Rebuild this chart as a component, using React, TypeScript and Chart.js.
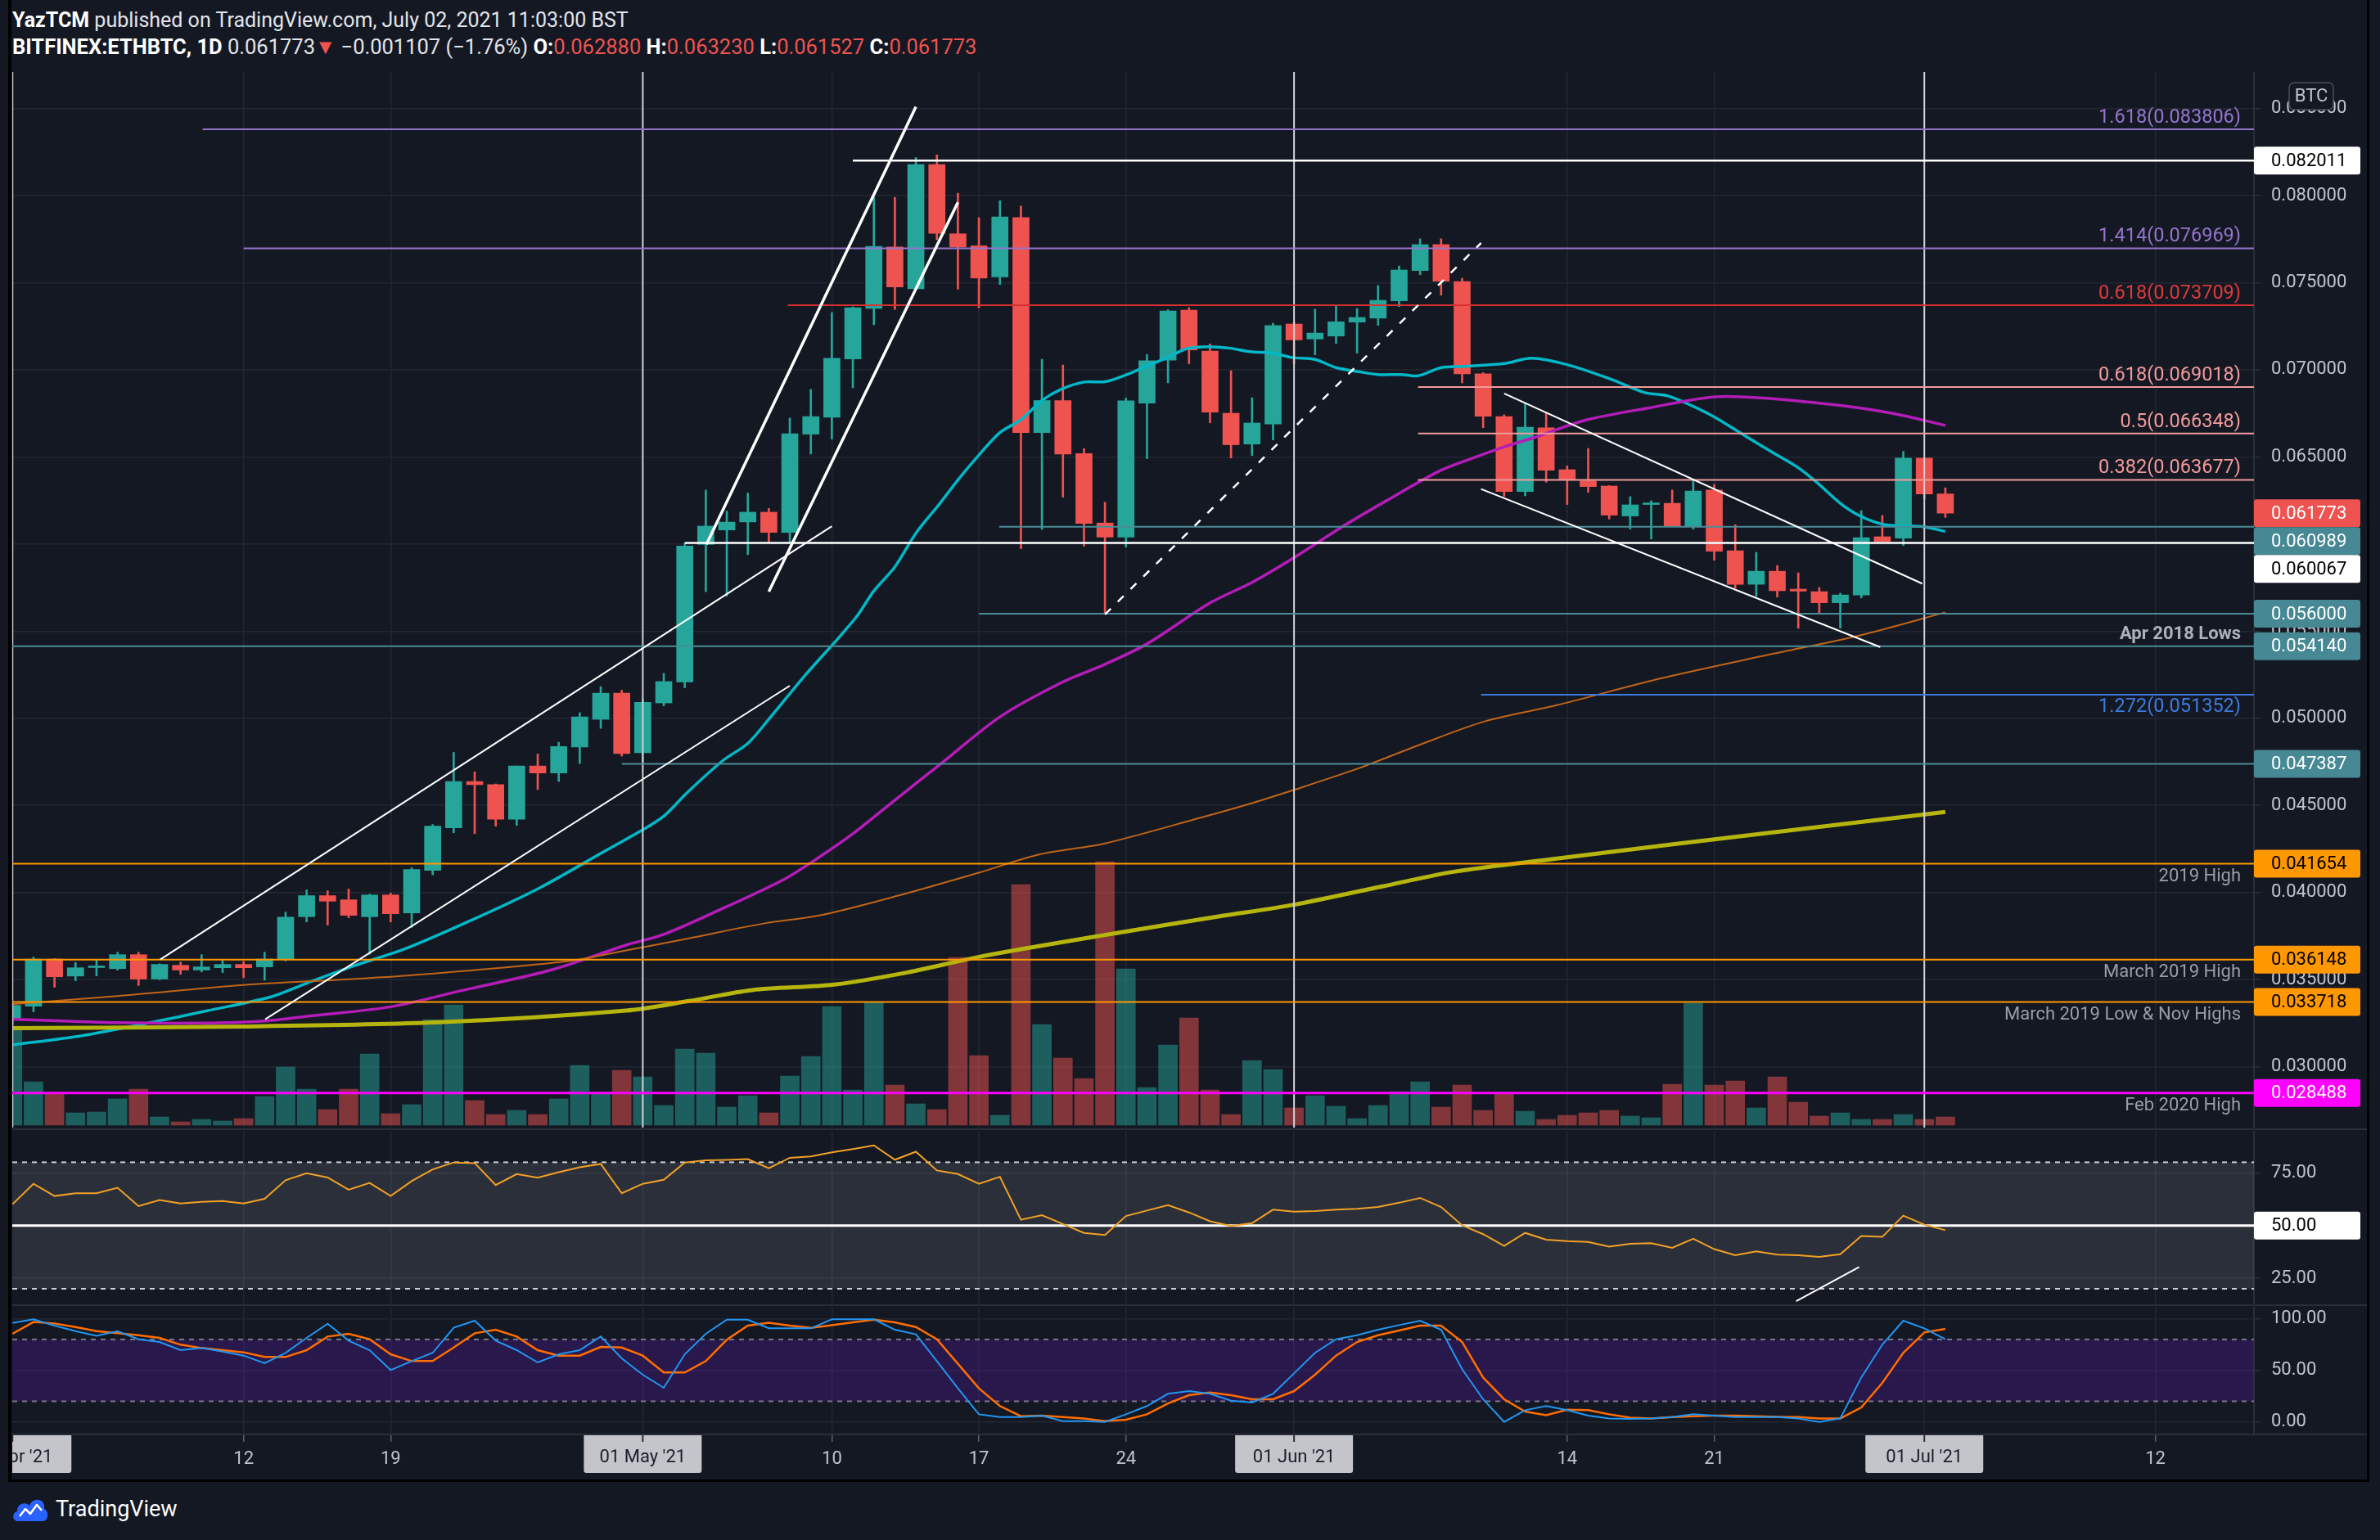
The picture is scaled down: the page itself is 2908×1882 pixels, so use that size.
import React, { useEffect, useRef } from 'react';
import { Chart, registerables } from 'chart.js';

Chart.register(...registerables);

const FONT = 'Roboto, "Liberation Sans", "DejaVu Sans", sans-serif';

// ================= DATA (day index 0 = 01 Apr 2021) =================
const OPEN = [0.03268, 0.03347, 0.03618, 0.03520, 0.03569, 0.03563, 0.03643, 0.03503, 0.03582, 0.03555,
  0.03568, 0.03587, 0.03573, 0.03615, 0.03861, 0.03982, 0.03958, 0.03861, 0.03986, 0.03883,
  0.04127, 0.04371, 0.04637, 0.04619, 0.04421, 0.04726, 0.04686, 0.04835, 0.04994, 0.05144,
  0.04802, 0.05088, 0.05208, 0.05998, 0.06081, 0.06127, 0.06183, 0.06067, 0.06631, 0.06728,
  0.07063, 0.07353, 0.07705, 0.07465, 0.08179, 0.07781, 0.07712, 0.07533, 0.07874, 0.06640,
  0.06824, 0.06519, 0.06121, 0.06040, 0.06809, 0.07056, 0.07343, 0.07108, 0.06751, 0.06574,
  0.06689, 0.07263, 0.07177, 0.07194, 0.07274, 0.07297, 0.07396, 0.07570, 0.07719, 0.07507,
  0.06977, 0.06732, 0.06302, 0.06667, 0.06427, 0.06363, 0.06333, 0.06161, 0.06227, 0.06234,
  0.06103, 0.06310, 0.05962, 0.05769, 0.05844, 0.05741, 0.05727, 0.05663, 0.05708, 0.06042,
  0.06034, 0.06493, 0.06288];
const HIGH = [0.03365, 0.03629, 0.03620, 0.03598, 0.03615, 0.03657, 0.03657, 0.03591, 0.03601, 0.03643,
  0.03610, 0.03605, 0.03657, 0.03887, 0.04015, 0.04010, 0.04020, 0.03990, 0.03997, 0.04142,
  0.04390, 0.04804, 0.04692, 0.04623, 0.04726, 0.04795, 0.04862, 0.05032, 0.05182, 0.05161,
  0.05109, 0.05258, 0.06006, 0.06310, 0.06189, 0.06293, 0.06205, 0.06723, 0.06888, 0.07329,
  0.07362, 0.07990, 0.07990, 0.08219, 0.08234, 0.08014, 0.07874, 0.07971, 0.07940, 0.07061,
  0.07028, 0.06548, 0.06240, 0.06838, 0.07088, 0.07345, 0.07357, 0.07149, 0.06995, 0.06840,
  0.07268, 0.07277, 0.07348, 0.07368, 0.07352, 0.07484, 0.07596, 0.07752, 0.07752, 0.07526,
  0.06984, 0.06742, 0.06806, 0.06754, 0.06449, 0.06549, 0.06336, 0.06272, 0.06249, 0.06310,
  0.06371, 0.06342, 0.06111, 0.05953, 0.05877, 0.05835, 0.05751, 0.05718, 0.06192, 0.06164,
  0.06532, 0.06493, 0.06323];
const LOW = [0.03243, 0.03315, 0.03456, 0.03493, 0.03521, 0.03554, 0.03466, 0.03499, 0.03530, 0.03544,
  0.03540, 0.03511, 0.03497, 0.03607, 0.03831, 0.03813, 0.03855, 0.03645, 0.03831, 0.03800,
  0.04101, 0.04343, 0.04338, 0.04381, 0.04385, 0.04591, 0.04637, 0.04740, 0.04942, 0.04783,
  0.04735, 0.05071, 0.05175, 0.05727, 0.05702, 0.05939, 0.06008, 0.06012, 0.06517, 0.06603,
  0.06897, 0.07259, 0.07347, 0.07465, 0.07747, 0.07463, 0.07356, 0.07490, 0.05974, 0.06084,
  0.06269, 0.05988, 0.05597, 0.05983, 0.06490, 0.06925, 0.07035, 0.06696, 0.06494, 0.06508,
  0.06598, 0.07035, 0.07086, 0.07152, 0.07096, 0.07255, 0.07363, 0.07546, 0.07429, 0.06925,
  0.06668, 0.06274, 0.06277, 0.06355, 0.06227, 0.06297, 0.06144, 0.06086, 0.06029, 0.06103,
  0.06086, 0.05907, 0.05747, 0.05700, 0.05696, 0.05517, 0.05600, 0.05517, 0.05691, 0.06015,
  0.05992, 0.06258, 0.061527];
const CLOSE = [0.03352, 0.03618, 0.03516, 0.03568, 0.03575, 0.03643, 0.03503, 0.03587, 0.03555, 0.03573,
  0.03587, 0.03568, 0.03618, 0.03859, 0.03982, 0.03950, 0.03869, 0.03986, 0.03878, 0.04132,
  0.04381, 0.04637, 0.04619, 0.04421, 0.04726, 0.04686, 0.04838, 0.05008, 0.05144, 0.04797,
  0.05092, 0.05211, 0.05989, 0.06103, 0.06126, 0.06183, 0.06067, 0.06633, 0.06732, 0.07066,
  0.07356, 0.07709, 0.07476, 0.08179, 0.07784, 0.07705, 0.07527, 0.07878, 0.06640, 0.06824,
  0.06517, 0.06119, 0.06040, 0.06822, 0.07052, 0.07338, 0.07114, 0.06757, 0.06570, 0.06695,
  0.07254, 0.07172, 0.07211, 0.07276, 0.07301, 0.07399, 0.07573, 0.07719, 0.07509, 0.06977,
  0.06734, 0.06302, 0.06671, 0.06424, 0.06371, 0.06330, 0.06166, 0.06225, 0.06234, 0.06103,
  0.06305, 0.05959, 0.05769, 0.05844, 0.05732, 0.05730, 0.05663, 0.05708, 0.06037, 0.06015,
  0.06493, 0.06288, 0.061773];
const VOLUME = [121, 53, 38, 15, 16, 32, 44, 10, 4, 7,
  5, 8, 35, 71, 44, 19, 44, 87, 14, 25,
  129, 147, 30, 13, 18, 13, 32, 73, 39, 67,
  59, 24, 93, 88, 22, 36, 15, 60, 84, 145,
  43, 150, 49, 26, 19, 205, 85, 12, 294, 123,
  82, 57, 322, 191, 46, 98, 131, 43, 13, 79,
  68, 21, 36, 23, 8, 24, 41, 53, 22, 49,
  18, 38, 17, 7, 12, 15, 18, 11, 9, 50,
  149, 49, 54, 21, 59, 28, 11, 15, 7, 7,
  13, 7, 10];

// moving averages: [day, price]
const MA20 = [[0, 0.03125], [3.3, 0.03178], [6.4, 0.03249], [9.3, 0.03322], [12.3, 0.03401], [14, 0.03479],
  [16.1, 0.03573], [18.8, 0.03682], [22.1, 0.03855], [25.1, 0.04027], [28.2, 0.04238], [30, 0.04360],
  [31, 0.04438], [32.1, 0.04572], [33.8, 0.04756], [35, 0.04856], [36, 0.04995], [37.7, 0.05243],
  [39.3, 0.05459], [40.2, 0.05587], [41, 0.05731], [42, 0.05869], [43, 0.06062], [44.1, 0.06227],
  [45.1, 0.06383], [46, 0.06511], [47, 0.06640], [48, 0.06714], [49, 0.06824], [49.9, 0.06888],
  [51, 0.06930], [52, 0.06932], [53, 0.06971], [53.9, 0.07017], [55, 0.07072], [55.9, 0.07122],
  [56.9, 0.07133], [57.9, 0.07125], [59, 0.07103], [59.9, 0.07099], [60.9, 0.07071], [62, 0.07060],
  [63, 0.07013], [64.1, 0.06989], [65, 0.06973], [66.1, 0.06973], [66.9, 0.06966], [68, 0.07013],
  [69, 0.07020], [71, 0.07036], [72.3, 0.07067], [74, 0.07030], [76, 0.06950], [77.7, 0.06869],
  [78.8, 0.06850], [80.8, 0.06743], [82.3, 0.06634], [83.8, 0.06524], [85, 0.06438], [85.9, 0.06352],
  [87, 0.06234], [87.9, 0.06164], [89, 0.06114], [90, 0.06104], [90.9, 0.06101], [92, 0.06073]];
const MA50 = [[0, 0.03273], [5, 0.03253], [9, 0.03250], [12, 0.03262], [14.3, 0.03293], [18, 0.03344],
  [21.5, 0.03440], [25.7, 0.03557], [29.2, 0.03698], [31, 0.03760], [33.4, 0.03886], [36.7, 0.04074],
  [38.4, 0.04203], [40, 0.04337], [42, 0.04530], [44.2, 0.04740], [47, 0.05008], [50, 0.05209],
  [52, 0.05310], [54, 0.05427], [57, 0.05662], [59, 0.05780], [61, 0.05922], [63.4, 0.06107],
  [65.4, 0.06249], [67.9, 0.06418], [69.5, 0.06493], [71.2, 0.06566], [72.4, 0.06610], [74.9, 0.06712],
  [77.9, 0.06782], [81, 0.06845], [83.5, 0.06837], [86, 0.06809], [87.9, 0.06782], [89.8, 0.06743],
  [92, 0.06681]];
const MA100 = [[0, 0.03359], [5, 0.03406], [11, 0.03469], [15.6, 0.03500], [18.8, 0.03523], [26.3, 0.03604],
  [29.2, 0.03667], [32.2, 0.03737], [35.8, 0.03823], [38.4, 0.03868], [42, 0.03977], [46, 0.04114],
  [48.9, 0.04219], [52, 0.04282], [56.3, 0.04421], [59, 0.04513], [61, 0.04589], [64.1, 0.04714],
  [67, 0.04849], [70.1, 0.04983], [73.5, 0.05075], [78.5, 0.05230], [83.6, 0.05365], [87.9, 0.05475],
  [92, 0.05608]];
const MA200 = [[0, 0.03221], [11, 0.03231], [20.3, 0.03255], [29.2, 0.03322], [32.2, 0.03377], [35.2, 0.03440],
  [39.1, 0.03471], [42.6, 0.03541], [46.2, 0.03635], [52.2, 0.03760], [57.4, 0.03862], [61, 0.03930],
  [65.2, 0.04035], [68.6, 0.04119], [73.5, 0.04195], [79.2, 0.04279], [92, 0.04462]];

const RSI_VALUES = [60.1, 69.8, 64.0, 65.3, 65.3, 67.9, 59.2, 62.1, 60.5, 61.2,
  61.6, 60.5, 62.7, 71.5, 74.8, 72.8, 67.0, 70.2, 64.0, 71.1,
  76.6, 79.9, 79.6, 69.2, 74.4, 72.7, 75.3, 77.6, 79.2, 65.3,
  69.8, 71.7, 79.9, 80.9, 81.1, 81.5, 77.2, 82.1, 82.8, 84.7,
  86.3, 88.0, 81.2, 85.0, 76.1, 74.4, 69.8, 73.1, 52.7, 54.9,
  50.7, 46.5, 45.5, 54.5, 57.1, 59.7, 56.2, 52.0, 49.8, 51.1,
  57.5, 56.6, 56.9, 57.5, 57.9, 58.8, 60.8, 63.1, 58.8, 50.1,
  45.9, 40.3, 46.5, 43.3, 42.6, 42.2, 40.0, 41.3, 41.6, 39.4,
  43.7, 38.8, 35.9, 37.7, 36.2, 35.9, 35.1, 36.4, 45.0, 44.6,
  54.7, 50.4, 47.8];
const STOCH_K = [96, 99.5, 93.4, 88.1, 83.6, 88.1, 80.2, 77.5, 69.6, 71.7,
  68.3, 64.3, 56.9, 67.0, 81.5, 95.3, 78.9, 69.6, 50.3, 59.0,
  67.0, 91.3, 98.2, 78.9, 69.6, 57.7, 65.6, 69.6, 82.8, 61.7,
  45.8, 33.1, 65.6, 85.5, 99.2, 99.2, 90.8, 90.8, 90.8, 99.5,
  99.5, 99.5, 89.4, 85.0, 59.0, 32.6, 7.4, 4.8, 4.8, 6.1,
  0.8, 0.8, 0, 7.4, 15.4, 27.3, 29.9, 27.3, 20.6, 18.8,
  27.3, 47.1, 67.0, 80.2, 84.1, 89.4, 93.9, 98.2, 89.4, 51.1,
  22.0, 0, 11.4, 15.4, 11.4, 6.1, 3.4, 2.9, 3.4, 4.8,
  7.4, 6.1, 4.8, 4.8, 4.8, 3.4, 0, 3.4, 43.1, 74.9,
  98.2, 90.8, 80.2];
const STOCH_D = [85.5, 96.9, 95.5, 92.1, 88.1, 86.0, 84.1, 81.5, 74.9, 71.7,
  69.6, 67.5, 63.0, 63.0, 69.6, 82.8, 85.5, 80.2, 65.6, 59.0,
  59.0, 72.2, 86.0, 89.4, 82.8, 69.6, 64.3, 64.3, 72.8, 72.2,
  64.3, 47.9, 47.9, 59.0, 79.7, 93.4, 96.1, 93.4, 91.3, 93.9,
  96.6, 99.2, 96.6, 92.1, 80.2, 56.4, 32.6, 15.4, 5.6, 6.1,
  4.8, 3.4, 0.8, 2.1, 7.4, 18.0, 25.9, 28.6, 25.9, 22.0,
  22.0, 29.9, 45.8, 64.3, 77.5, 84.1, 88.6, 93.4, 93.4, 77.5,
  43.1, 22.0, 10.1, 6.6, 11.9, 11.4, 7.4, 4.2, 3.4, 4.8,
  5.6, 6.1, 6.1, 5.6, 5.0, 4.8, 3.4, 3.4, 14.0, 37.8,
  67.0, 86.8, 90.2];

const PRICE_TICKS = [0.030, 0.035, 0.040, 0.045, 0.050, 0.055, 0.060, 0.065, 0.070, 0.075, 0.080, 0.085];
const RSI_TICKS = [25, 50, 75];
const STOCH_TICKS = [0, 50, 100];
const RSI_BAND = [20, 80];
const RSI_MID = 50;
const STOCH_BAND = [20, 80];
const GRID_DAYS = [11, 18, 30, 39, 46, 53, 61, 74, 81, 91, 102];
const DATE_TICK_DAYS = [11, 18, 39, 46, 53, 74, 81, 102];
const DATE_TICK_LABELS = ['12', '19', '10', '17', '24', '14', '21', '12'];
const MARKED_DAYS = [0, 30, 61, 91];
const MARKED_LABELS = ["01 Apr '21", "01 May '21", "01 Jun '21", "01 Jul '21"];

// horizontal levels
const LEVEL_PRICES = [0.083806, 0.082011, 0.076969, 0.073709, 0.069018, 0.066348, 0.063677, 0.060989,
  0.060067, 0.056000, 0.054140, 0.051352, 0.047387, 0.041654, 0.036148, 0.033718, 0.028488];
const LEVEL_FROM_DAY = [9.05, 40.0, 11.0, 36.9, 66.9, 66.9, 66.9, 46.96,
  32.0, 46.0, null, 69.9, 29.0, null, null, null, null];
const LEVEL_TEXT = ['1.618(0.083806)', '', '1.414(0.076969)', '0.618(0.073709)', '0.618(0.069018)',
  '0.5(0.066348)', '0.382(0.063677)', '', '', '', 'Apr 2018 Lows', '1.272(0.051352)', '',
  '2019 High', 'March 2019 High', 'March 2019 Low & Nov Highs', 'Feb 2020 High'];
const LEVEL_KIND = ['purple', 'white', 'purple', 'red', 'pink', 'pink', 'pink', 'teal',
  'white', 'teal', 'teal', 'blue', 'teal', 'orange', 'orange', 'orange', 'magenta'];
const LEVEL_NOTE = ['fib', '', 'fib', 'fib', 'fib', 'fib', 'fib', '', '', '', 'above', 'fibBelow', '',
  'below', 'below', 'below', 'below'];
const LAST_PRICE = 0.061773;

// trend lines [day1, price1, day2, price2]
const TRENDS = [[7.03, 0.03615, 39.0, 0.06102], [12.03, 0.03272, 37.0, 0.05187],
  [33.03, 0.05998, 43.0, 0.0851], [36.0, 0.05727, 45.0, 0.07962],
  [52.0, 0.05596, 69.9, 0.07728], [71.0, 0.06864, 90.9, 0.05773], [69.9, 0.06316, 88.9, 0.05409]];
const RSI_TREND = [84.9, 14.1, 87.9, 30.3];

// ================= STYLE / GEOMETRY =================
const BG = '#141823';
const GRID = '#222632';
const AXIS_LINE = '#2a2e39';
const AXIS_TEXT = '#c1c4cd';
const UP = '#26a69a';
const DOWN = '#ef5350';
const CANVAS_W = 2908;
const PLOT_LEFT = 15;
const AXIS_W = 154;
const X_MIN = -0.01;
const X_MAX = 106.69;
const PRICE_MIN = 0.026505;
const PRICE_MAX = 0.087097;
const VOL_MIN = -3;
const VOL_MAX = 1287;
const RSI_MIN = 13.0;
const RSI_MAX = 94.9;
const STOCH_MIN = -11.35;
const STOCH_MAX = 111.67;
const MAIN_TOP = 88, MAIN_H = 1290;
const RSI_TOP = 1382, RSI_H = 211;
const STOCH_TOP = 1597, STOCH_H = 213, XAXIS_H = 58;
const BOX_W = 130, BOX_H = 34;

const KIND_STYLE: any = {
  purple: { line: '#9575cd', width: 2, text: '#9575cd' },
  white: { line: '#ffffff', width: 2.5, box: ['#ffffff', '#000000'] },
  red: { line: '#d8302f', width: 2, text: '#e0393a' },
  pink: { line: '#f29a9a', width: 2, text: '#f29a9a' },
  teal: { line: '#4a8c97', width: 2, box: ['#468893', '#ffffff'] },
  blue: { line: '#3d7be0', width: 2, text: '#3d7be0' },
  orange: { line: '#ff9800', width: 2, box: ['#ff9800', '#000000'] },
  magenta: { line: '#ff00ff', width: 3, box: ['#ff00ff', '#ffffff'] },
};
const TREND_STYLE = [{ w: 2 }, { w: 2 }, { w: 3.5 }, { w: 3.5 }, { w: 2.5, dash: [10, 12] }, { w: 2 }, { w: 2 }];

function roundRect(ctx: any, x: number, y: number, w: number, h: number, r: number) {
  ctx.beginPath();
  ctx.moveTo(x + r, y);
  ctx.arcTo(x + w, y, x + w, y + h, r);
  ctx.arcTo(x + w, y + h, x, y + h, r);
  ctx.arcTo(x, y + h, x, y, r);
  ctx.arcTo(x, y, x + w, y, r);
  ctx.closePath();
}

function hiddenX(extra: any = {}) {
  return {
    type: 'linear', min: X_MIN, max: X_MAX, offset: false,
    grid: { color: GRID, lineWidth: 1.5, drawTicks: false, offset: false },
    border: { display: false },
    ticks: { display: false },
    afterBuildTicks: (s: any) => { s.ticks = GRID_DAYS.map((v) => ({ value: v })); },
    afterFit: (s: any) => { s.height = 0; s.paddingLeft = 0; s.paddingRight = 0; },
    ...extra,
  };
}

function rightY(min: number, max: number, ticks: number[], fmt: (v: number) => string) {
  return {
    type: 'linear', position: 'right', min, max,
    grid: { color: GRID, lineWidth: 1.5, tickLength: 8, tickColor: AXIS_LINE },
    border: { display: true, color: AXIS_LINE, width: 2 },
    ticks: { color: AXIS_TEXT, font: { size: 22, family: FONT }, padding: 13, callback: (v: any) => fmt(Number(v)) },
    afterBuildTicks: (s: any) => { s.ticks = ticks.map((v) => ({ value: v })); },
    afterFit: (s: any) => { s.width = AXIS_W; s.paddingTop = 0; s.paddingBottom = 0; },
  };
}

const baseOptions = {
  animation: false, responsive: false, maintainAspectRatio: false, devicePixelRatio: 1,
  events: [],
  layout: { padding: { left: PLOT_LEFT, right: 0, top: 0, bottom: 0 } },
  plugins: { legend: { display: false }, tooltip: { enabled: false } },
};

const mainOverlay = {
  id: 'mainOverlay',
  afterDatasetsDraw(chart: any) {
    const { ctx, chartArea: a } = chart;
    const x = chart.scales.x, y = chart.scales.y;
    ctx.save();
    ctx.beginPath();
    ctx.rect(a.left, a.top, a.right - a.left, a.bottom - a.top);
    ctx.clip();
    ctx.strokeStyle = '#cfd1d6';
    ctx.lineWidth = 2;
    MARKED_DAYS.forEach((d) => {
      const px = x.getPixelForValue(d);
      ctx.beginPath(); ctx.moveTo(px, a.top); ctx.lineTo(px, a.bottom); ctx.stroke();
    });
    LEVEL_PRICES.forEach((p, i) => {
      const st = KIND_STYLE[LEVEL_KIND[i]];
      const py = y.getPixelForValue(p);
      const from = LEVEL_FROM_DAY[i];
      const x0 = from === null ? a.left : x.getPixelForValue(from);
      ctx.strokeStyle = st.line; ctx.lineWidth = st.width; ctx.setLineDash([]);
      ctx.beginPath(); ctx.moveTo(x0, py); ctx.lineTo(a.right, py); ctx.stroke();
      const txt = LEVEL_TEXT[i];
      if (txt) {
        const note = LEVEL_NOTE[i];
        const fib = note === 'fib' || note === 'fibBelow';
        ctx.font = `${note === 'above' ? 'bold ' : ''}${fib ? 23.5 : 22}px ${FONT}`;
        ctx.fillStyle = fib ? st.text : (note === 'above' ? '#aeb1ba' : '#9a9da6');
        ctx.textAlign = 'right'; ctx.textBaseline = 'middle';
        const dy = note === 'below' ? 16 : (note === 'fibBelow' ? 15 : -14);
        ctx.fillText(txt, a.right - 16, py + dy);
      }
    });
    ctx.strokeStyle = '#ffffff';
    TRENDS.forEach(([d1, p1, d2, p2], i) => {
      const st = TREND_STYLE[i];
      ctx.lineWidth = st.w;
      ctx.setLineDash(st.dash || []);
      ctx.beginPath();
      ctx.moveTo(x.getPixelForValue(d1), y.getPixelForValue(p1));
      ctx.lineTo(x.getPixelForValue(d2), y.getPixelForValue(p2));
      ctx.stroke();
    });
    ctx.restore();
  },
  afterDraw(chart: any) {
    const { ctx, chartArea: a } = chart;
    const y = chart.scales.y;
    const boxes: any[] = [];
    LEVEL_PRICES.forEach((p, i) => {
      const st = KIND_STYLE[LEVEL_KIND[i]];
      if (st.box) boxes.push({ p, bg: st.box[0], fg: st.box[1] });
    });
    boxes.push({ p: LAST_PRICE, bg: DOWN, fg: '#ffffff' });
    boxes.forEach((b) => { b.y = y.getPixelForValue(b.p); });
    boxes.sort((m, n) => m.y - n.y);
    let prev = -1e9;
    boxes.forEach((b) => { if (b.y < prev + BOX_H) b.y = prev + BOX_H; prev = b.y; });
    ctx.save();
    ctx.font = `22px ${FONT}`;
    ctx.textAlign = 'left'; ctx.textBaseline = 'middle';
    boxes.forEach((b) => {
      ctx.fillStyle = b.bg;
      roundRect(ctx, a.right, b.y - BOX_H / 2, BOX_W, BOX_H, 3);
      ctx.fill();
      ctx.fillStyle = b.fg;
      ctx.fillText(b.p.toFixed(6), a.right + 21, b.y + 1);
    });
    // currency badge
    ctx.fillStyle = BG;
    roundRect(ctx, a.right + 43, a.top + 13, 54, 33, 6);
    ctx.fill();
    ctx.strokeStyle = '#4a4e59'; ctx.lineWidth = 1.5; ctx.stroke();
    ctx.fillStyle = AXIS_TEXT; ctx.textAlign = 'center';
    ctx.fillText('BTC', a.right + 70, a.top + 30);
    ctx.restore();
  },
};

const rsiOverlay = {
  id: 'rsiOverlay',
  beforeDatasetsDraw(chart: any) {
    const { ctx, chartArea: a } = chart;
    const y = chart.scales.y;
    const yHi = y.getPixelForValue(RSI_BAND[1]);
    const yLo = y.getPixelForValue(RSI_BAND[0]);
    ctx.save();
    ctx.fillStyle = 'rgba(255,255,255,0.1)';
    ctx.fillRect(a.left, yHi, a.right - a.left, yLo - yHi);
    ctx.setLineDash([6, 6]);
    ctx.strokeStyle = 'rgba(225,225,230,0.9)'; ctx.lineWidth = 2;
    [yHi, yLo].forEach((py) => { ctx.beginPath(); ctx.moveTo(a.left, py); ctx.lineTo(a.right, py); ctx.stroke(); });
    ctx.setLineDash([]);
    const ym = y.getPixelForValue(RSI_MID);
    ctx.strokeStyle = '#ffffff'; ctx.lineWidth = 3;
    ctx.beginPath(); ctx.moveTo(a.left, ym); ctx.lineTo(a.right, ym); ctx.stroke();
    ctx.restore();
  },
  afterDatasetsDraw(chart: any) {
    const { ctx, chartArea: a } = chart;
    const x = chart.scales.x, y = chart.scales.y;
    ctx.save();
    ctx.beginPath(); ctx.rect(a.left, a.top, a.right - a.left, a.bottom - a.top); ctx.clip();
    ctx.strokeStyle = '#ffffff'; ctx.lineWidth = 2;
    ctx.beginPath();
    ctx.moveTo(x.getPixelForValue(RSI_TREND[0]), y.getPixelForValue(RSI_TREND[1]));
    ctx.lineTo(x.getPixelForValue(RSI_TREND[2]), y.getPixelForValue(RSI_TREND[3]));
    ctx.stroke();
    ctx.restore();
  },
  afterDraw(chart: any) {
    const { ctx, chartArea: a } = chart;
    const ym = chart.scales.y.getPixelForValue(RSI_MID);
    ctx.save();
    ctx.fillStyle = '#ffffff';
    roundRect(ctx, a.right, ym - BOX_H / 2, BOX_W, BOX_H, 3);
    ctx.fill();
    ctx.fillStyle = '#000000'; ctx.font = `22px ${FONT}`;
    ctx.textAlign = 'left'; ctx.textBaseline = 'middle';
    ctx.fillText(RSI_MID.toFixed(2), a.right + 21, ym + 1);
    ctx.restore();
  },
};

const stochOverlay = {
  id: 'stochOverlay',
  beforeDatasetsDraw(chart: any) {
    const { ctx, chartArea: a } = chart;
    const y = chart.scales.y;
    const yHi = y.getPixelForValue(STOCH_BAND[1]);
    const yLo = y.getPixelForValue(STOCH_BAND[0]);
    ctx.save();
    ctx.fillStyle = 'rgba(110,25,205,0.24)';
    ctx.fillRect(a.left, yHi, a.right - a.left, yLo - yHi);
    ctx.setLineDash([6, 6]);
    ctx.strokeStyle = 'rgba(140,140,152,0.85)'; ctx.lineWidth = 2;
    [yHi, yLo].forEach((py) => { ctx.beginPath(); ctx.moveTo(a.left, py); ctx.lineTo(a.right, py); ctx.stroke(); });
    ctx.restore();
  },
  afterDraw(chart: any) {
    const { ctx, chartArea: a } = chart;
    const x = chart.scales.x;
    const top = a.bottom;
    ctx.save();
    ctx.beginPath(); ctx.rect(a.left, top, a.right - a.left, 50); ctx.clip();
    ctx.font = `22px ${FONT}`;
    ctx.textAlign = 'center'; ctx.textBaseline = 'middle';
    MARKED_DAYS.forEach((d, i) => {
      const px = x.getPixelForValue(d);
      ctx.fillStyle = '#c3c5cb';
      roundRect(ctx, px - 72, top, 144, 48, 3);
      ctx.fill();
      ctx.fillStyle = '#2a2e39';
      ctx.fillRect(px - 1, top, 2, 10);
      ctx.fillStyle = '#1a1e29';
      ctx.fillText(MARKED_LABELS[i], px, top + 29);
    });
    ctx.restore();
  },
};

function buildMain(canvas: HTMLCanvasElement) {
  const idx = OPEN.map((_, i) => i);
  const colors = idx.map((i) => (CLOSE[i] >= OPEN[i] ? UP : DOWN));
  const volColors = idx.map((i) => (CLOSE[i] >= OPEN[i] ? 'rgba(38,166,154,0.5)' : 'rgba(239,83,80,0.5)'));
  const ma = (pts: number[][], color: string, w: number) => ({
    type: 'line', data: pts.map(([d, p]) => ({ x: d, y: p })), borderColor: color, borderWidth: w,
    pointRadius: 0, tension: 0.3, yAxisID: 'y', order: 4, fill: false,
  });
  return new Chart(canvas, {
    type: 'bar',
    data: {
      datasets: [
        { type: 'bar', data: VOLUME.map((v, i) => ({ x: i, y: v })), backgroundColor: volColors, barThickness: 23, grouped: false, yAxisID: 'yVol', order: 10 },
        { type: 'bar', data: idx.map((i) => ({ x: i, y: [LOW[i], HIGH[i]] })), backgroundColor: colors, barThickness: 2, grouped: false, yAxisID: 'y', order: 7 },
        { type: 'bar', data: idx.map((i) => ({ x: i, y: [OPEN[i], CLOSE[i]] })), backgroundColor: colors, barThickness: 20, minBarLength: 2, grouped: false, yAxisID: 'y', order: 6 },
        ma(MA200, '#b5b50d', 5),
        ma(MA100, '#c06418', 2),
        ma(MA50, '#b41cb8', 3.5),
        ma(MA20, '#00b8c8', 3.5),
      ] as any,
    },
    options: {
      ...baseOptions,
      scales: {
        x: hiddenX(),
        y: rightY(PRICE_MIN, PRICE_MAX, PRICE_TICKS, (v) => v.toFixed(6)),
        yVol: { type: 'linear', display: false, min: VOL_MIN, max: VOL_MAX },
      },
    } as any,
    plugins: [mainOverlay],
  });
}

function buildRsi(canvas: HTMLCanvasElement) {
  return new Chart(canvas, {
    type: 'line',
    data: {
      datasets: [
        { data: RSI_VALUES.map((v, i) => ({ x: i, y: v })), borderColor: '#f2a126', borderWidth: 2, pointRadius: 0, tension: 0 },
      ] as any,
    },
    options: {
      ...baseOptions,
      scales: {
        x: hiddenX(),
        y: rightY(RSI_MIN, RSI_MAX, RSI_TICKS, (v) => (v === RSI_MID ? '' : v.toFixed(2))),
      },
    } as any,
    plugins: [rsiOverlay],
  });
}

function buildStoch(canvas: HTMLCanvasElement) {
  return new Chart(canvas, {
    type: 'line',
    data: {
      datasets: [
        { data: STOCH_K.map((v, i) => ({ x: i, y: v })), borderColor: '#2196f3', borderWidth: 2, pointRadius: 0, tension: 0 },
        { data: STOCH_D.map((v, i) => ({ x: i, y: v })), borderColor: '#ff6d00', borderWidth: 2.5, pointRadius: 0, tension: 0 },
      ] as any,
    },
    options: {
      ...baseOptions,
      scales: {
        x: hiddenX({
          grid: { color: GRID, lineWidth: 1.5, drawTicks: true, tickLength: 10, tickColor: '#5d606b', offset: false },
          ticks: {
            display: true, color: AXIS_TEXT, font: { size: 22, family: FONT }, padding: 8,
            autoSkip: false, maxRotation: 0, minRotation: 0,
            callback: (v: any) => {
              const k = DATE_TICK_DAYS.indexOf(Math.round(Number(v)));
              return k >= 0 ? DATE_TICK_LABELS[k] : '';
            },
          },
          afterFit: (s: any) => { s.height = XAXIS_H; s.paddingLeft = 0; s.paddingRight = 0; },
        }),
        y: rightY(STOCH_MIN, STOCH_MAX, STOCH_TICKS, (v) => v.toFixed(2)),
      },
    } as any,
    plugins: [stochOverlay],
  });
}

const RED_TXT = { color: DOWN };
const BOLD = { color: '#ffffff' };

export default function App() {
  const mainRef = useRef<HTMLCanvasElement>(null);
  const rsiRef = useRef<HTMLCanvasElement>(null);
  const stochRef = useRef<HTMLCanvasElement>(null);

  useEffect(() => {
    const charts = [buildMain(mainRef.current!), buildRsi(rsiRef.current!), buildStoch(stochRef.current!)];
    return () => charts.forEach((c) => c.destroy());
  }, []);

  const canvasStyle = (top: number, h: number): any => ({ position: 'absolute', left: 0, top, width: CANVAS_W, height: h });
  const sep = (top: number): any => ({ position: 'absolute', left: 13, top, width: 2879, height: 2, background: AXIS_LINE });

  return (
    <div style={{ position: 'absolute', left: 0, top: 0, width: 2908, height: 1882, background: BG, overflow: 'hidden', fontFamily: FONT }}>
      <div style={{ position: 'absolute', left: 15, top: 8, color: '#e3e5ea', whiteSpace: 'nowrap' }}>
        <div style={{ fontSize: 25, lineHeight: '33px' }}><b style={BOLD}>YazTCM</b> published on TradingView.com, July 02, 2021 11:03:00 BST</div>
        <div style={{ fontSize: 25.5, lineHeight: '33px' }}>
          <b style={BOLD}>BITFINEX:ETHBTC, 1D</b> 0.061773<span style={RED_TXT}>▼</span> −0.001107 (−1.76%){' '}
          <b style={BOLD}>O:</b><span style={RED_TXT}>0.062880</span>{' '}
          <b style={BOLD}>H:</b><span style={RED_TXT}>0.063230</span>{' '}
          <b style={BOLD}>L:</b><span style={RED_TXT}>0.061527</span>{' '}
          <b style={BOLD}>C:</b><span style={RED_TXT}>0.061773</span>
        </div>
      </div>
      <canvas ref={mainRef} width={CANVAS_W} height={MAIN_H} style={canvasStyle(MAIN_TOP, MAIN_H)} />
      <canvas ref={rsiRef} width={CANVAS_W} height={RSI_H} style={canvasStyle(RSI_TOP, RSI_H)} />
      <canvas ref={stochRef} width={CANVAS_W} height={STOCH_H} style={canvasStyle(STOCH_TOP, STOCH_H)} />
      <div style={sep(1379)} />
      <div style={sep(1594)} />
      <div style={sep(1752)} />
      <div style={{ position: 'absolute', left: 10, top: -5, width: 2885, height: 1816, boxSizing: 'border-box', borderLeft: '4px solid #000', borderRight: '3px solid #000', borderBottom: '3px solid #000', pointerEvents: 'none' }} />
      <div style={{ position: 'absolute', left: 14, top: 1826, height: 36, display: 'flex', alignItems: 'center' }}>
        <svg width="46" height="34" viewBox="0 0 46 34">
          <path d="M8 32 C1 32 0 22 7 20 C6 11 17 7 22 13 C26 2 42 4 40 17 C46 19 46 32 38 32 Z" fill="#2962ff" />
          <polyline points="10,26 17,17 23,23 31,12 37,19" fill="none" stroke="#ffffff" strokeWidth="2.5" strokeLinejoin="round" />
        </svg>
        <span style={{ color: '#ffffff', fontSize: 27, marginLeft: 8 }}>TradingView</span>
      </div>
    </div>
  );
}
